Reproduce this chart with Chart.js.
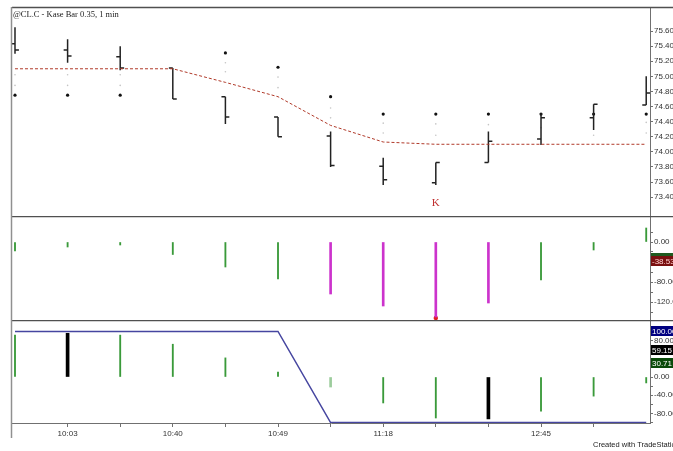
<!DOCTYPE html>
<html><head><meta charset="utf-8">
<script src="https://cdn.jsdelivr.net/npm/chart.js@4.4.1/dist/chart.umd.min.js"></script>
<style>
html,body{margin:0;padding:0;background:#fff;width:673px;height:451px;overflow:hidden}
canvas{position:absolute;left:0}
</style></head><body>
<canvas id="c1" width="673" height="216" style="top:0"></canvas>
<canvas id="c2" width="673" height="104" style="top:216px"></canvas>
<canvas id="c3" width="673" height="131" style="top:320px"></canvas>
<script>
// ---------- data ----------
const barIndex   = [0,1,2,3,4,5,6,7,8,9,10,11,12];
const timeLabels = ['', '10:03', '', '10:40', '', '10:49', '', '11:18', '', '', '12:45', '', ''];
const openP  = [75.43, 75.35, 75.26, 75.11, 74.73, 74.46, 74.21, 73.81, 73.59, 73.86, 74.17, 74.45, 74.62];
const highP  = [75.65, 75.49, 75.40, 75.11, 74.73, 74.46, 74.27, 73.92, 73.86, 74.27, 74.51, 74.63, 75.00];
const lowP   = [75.30, 75.18, 75.08, 74.70, 74.37, 74.20, 73.80, 73.56, 73.56, 73.86, 74.09, 74.29, 74.62];
const closeP = [75.35, 75.27, 75.11, 74.70, 74.46, 74.20, 73.82, 73.63, 73.86, 74.14, 74.45, 74.63, 74.78];
const kaseDots  = [74.75, 74.75, 74.75, null, 75.31, 75.12, 74.73, 74.50, 74.50, 74.50, 74.50, 74.50, 74.50];
const stopA     = [75.02, 75.02, 75.02, null, 75.18, 74.99, 74.58, 74.38, 74.37, 74.36, 74.32, 74.22, 74.39];
const stopB     = [74.88, 74.88, 74.88, null, 75.06, 74.85, 74.45, 74.25, 74.22, null, null, null, 74.25];
const trendLine = [75.10, 75.10, 75.10, 75.10, 74.92, 74.73, 74.35, 74.13, 74.10, 74.10, 74.10, 74.10, 74.10];
const priceTicks = [75.6, 75.4, 75.2, 75.0, 74.8, 74.6, 74.4, 74.2, 74.0, 73.8, 73.6, 73.4];
const kMarkIndex = 8, kMarkPrice = 73.32;

const oscValues = [-18, -10, -6, -25, -50, -74, -104, -128, -150, -122, -76, -16, 28];
const oscSignal = [null, null, null, null, null, null, null, null, -152, null, null, null, null];
const oscTicks  = [20, 0, -20, -40, -60, -80, -100, -120, -140];
const oscLabeled = [0, -40, -80, -120];
const oscLast = [{v: -31.12, t: '-31.12'}, {v: -38.53, t: '-38.53'}];

const kcdValues  = [92, 96, 92, 72, 42, 11, -22, -57, -90, -92, -75, -42, -13];
const permission = [100, 100, 100, 100, 100, 100, -100, -100, -100, -100, -100, -100, -100];
const kcdTicks   = [100, 80, 60, 40, 20, 0, -20, -40, -60, -80, -100];
const kcdLabeled = [80, 0, -40, -80];
const kcdLast = [{v: 100, t: '100.00'}, {v: 59.15, t: '59.15'}, {v: 30.71, t: '30.71'}];

// ---------- styles ----------
const oscMagenta = [6, 7, 8, 9];
const kcdBlack = [1, 9];
const kcdLight = [6];
const X_MIN = -0.057, X_MAX = 12.072;
const AX = '#707070', TXT = '#333', FONT = 'Liberation Sans';

function segs(fn){ const d=[]; barIndex.forEach(i=>{ d.push(...fn(i), {x:i+0.2, y:null}); }); return d; }
const pts = arr => barIndex.map(i => ({x:i, y:arr[i]}));
const pick = (arr, list, keep) => barIndex.map(i => ({x:i, y:(list.includes(i) === keep) ? arr[i] : null}));

function xCfg(show){
  return {type:'linear', min:X_MIN, max:X_MAX, display:show, offset:false,
    afterBuildTicks: s => { s.ticks = barIndex.slice(1, 12).map(v => ({value:v})); },
    afterFit: s => { s.height = show ? 28 : 0; s.paddingLeft = 0; s.paddingRight = 0; s.paddingTop = 0; s.paddingBottom = 0; },
    grid:{drawOnChartArea:false, drawTicks:true, tickLength:4, color:AX, offset:false},
    border:{display:true, color:AX},
    ticks:{autoSkip:false, maxRotation:0, padding:2, color:TXT, font:{size:8, family:FONT},
      callback: v => timeLabels[v] || ''}};
}
function yCfg(min, max, ticks, labelFn){
  return {position:'right', min, max,
    afterFit: s => { s.width = 23; s.paddingTop = 0; s.paddingBottom = 0; },
    afterBuildTicks: s => { s.ticks = ticks.map(v => ({value:v})); },
    grid:{drawOnChartArea:false, drawTicks:true, tickLength:3, color:AX},
    border:{display:true, color:AX},
    ticks:{autoSkip:false, padding:1, color:TXT, font:{size:8, family:FONT}, callback: labelFn}};
}
const frame = (extra) => ({id:'frame', afterDraw(c){
  const ctx=c.ctx, a=c.chartArea; ctx.save();
  ctx.strokeStyle='#505050'; ctx.lineWidth=1.5;
  ctx.beginPath(); ctx.moveTo(12, a.top-0.5); ctx.lineTo(673, a.top-0.5); ctx.stroke();
  ctx.strokeStyle='#909090'; ctx.lineWidth=1.5;
  ctx.beginPath(); ctx.moveTo(11.5, a.top-1); ctx.lineTo(11.5, extra && extra.leftBottom || c.height); ctx.stroke();
  ctx.restore(); if (extra && extra.draw) extra.draw(c);
}});
const boxes = list => (c) => {
  const ctx=c.ctx, ys=c.scales.y; ctx.save();
  list.forEach(b => { const y = Math.round(ys.getPixelForValue(b.v));
    ctx.fillStyle=b.bg; ctx.fillRect(651, y-5, 22, 10);
    ctx.fillStyle=b.fg; ctx.font='8px '+FONT; ctx.textBaseline='middle'; ctx.textAlign='left';
    ctx.fillText(b.t, 652, y+0.5); });
  ctx.restore();
};
const common = {responsive:false, animation:false, events:[],
  plugins:{legend:{display:false}, tooltip:{enabled:false}}};
const lay = top => ({autoPadding:false, padding:{top, left:12, right:0, bottom:0}});

// ---------- panel 1: price ----------
new Chart(document.getElementById('c1'), {
  type:'line',
  data:{datasets:[
    {data:pts(trendLine), borderColor:'#b03a2a', borderWidth:1, borderDash:[3,2], pointRadius:0},
    {data:segs(i=>[{x:i,y:lowP[i]},{x:i,y:highP[i]}]), borderColor:'#222', borderWidth:1.5, pointRadius:0},
    {data:segs(i=>[{x:i-0.075,y:openP[i]},{x:i,y:openP[i]}]), borderColor:'#222', borderWidth:1.5, pointRadius:0},
    {data:segs(i=>[{x:i,y:closeP[i]},{x:i+0.075,y:closeP[i]}]), borderColor:'#222', borderWidth:1.5, pointRadius:0},
    {data:pts(stopA), showLine:false, pointRadius:0.8, pointBackgroundColor:'#c4c4c4', pointBorderWidth:0},
    {data:pts(stopB), showLine:false, pointRadius:0.8, pointBackgroundColor:'#c4c4c4', pointBorderWidth:0},
    {data:pts(kaseDots), showLine:false, pointRadius:1.6, pointBackgroundColor:'#111', pointBorderWidth:0}
  ]},
  options:{...common, layout:lay(8),
    scales:{x:xCfg(false), y:yCfg(73.15, 75.905, priceTicks, v => v.toFixed(2))}},
  plugins:[frame({draw(c){
    const ctx=c.ctx; ctx.save();
    ctx.fillStyle='#222'; ctx.font='8.5px Liberation Serif'; ctx.textBaseline='alphabetic';
    ctx.fillText('@CL.C - Kase Bar 0.35, 1 min', 13, 17);
    ctx.fillStyle='#c03030'; ctx.font='11px Liberation Serif'; ctx.textAlign='center'; ctx.textBaseline='middle';
    ctx.fillText('K', c.scales.x.getPixelForValue(kMarkIndex), c.scales.y.getPixelForValue(kMarkPrice));
    ctx.restore();
  }})]
});

// ---------- panel 2: oscillator ----------
new Chart(document.getElementById('c2'), {
  type:'bar',
  data:{datasets:[
    {type:'bar', data:pick(oscValues, oscMagenta, false), backgroundColor:'#3a9a3a', barThickness:1.2, grouped:false},
    {type:'bar', data:pick(oscValues, oscMagenta, true), backgroundColor:'#cc33cc', barThickness:2, grouped:false},
    {type:'line', data:pts(oscSignal), showLine:false, pointRadius:2.2, pointBackgroundColor:'#e02020', pointBorderWidth:0, clip:4}
  ]},
  options:{...common, layout:lay(1),
    scales:{x:xCfg(false), y:yCfg(-156, 50, oscTicks, v => oscLabeled.includes(v) ? v.toFixed(2) : '')}},
  plugins:[frame({draw: boxes([
    {v:oscLast[0].v, t:oscLast[0].t, bg:'#1f5a1f', fg:'#fff'},
    {v:oscLast[1].v, t:oscLast[1].t, bg:'#7a1010', fg:'#ffd0d0'}])})]
});

// ---------- panel 3: KaseCD / permission ----------
new Chart(document.getElementById('c3'), {
  type:'bar',
  data:{datasets:[
    {type:'line', data:pts(permission), borderColor:'#4646a0', borderWidth:1.5, pointRadius:0},
    {type:'bar', data:barIndex.map(i=>({x:i, y:(kcdBlack.includes(i)||kcdLight.includes(i))?null:kcdValues[i]})), backgroundColor:'#3a9a3a', barThickness:1.2, grouped:false},
    {type:'bar', data:pick(kcdValues, kcdLight, true), backgroundColor:'#9ccc9c', barThickness:2, grouped:false},
    {type:'bar', data:pick(kcdValues, kcdBlack, true), backgroundColor:'#000', barThickness:3, grouped:false}
  ]},
  options:{...common, layout:lay(1),
    scales:{x:xCfg(true), y:yCfg(-101, 123, kcdTicks, v => kcdLabeled.includes(v) ? v.toFixed(2) : '')}},
  plugins:[frame({leftBottom:118, draw(c){
    boxes([
      {v:kcdLast[0].v, t:kcdLast[0].t, bg:'#000080', fg:'#fff'},
      {v:kcdLast[1].v, t:kcdLast[1].t, bg:'#000', fg:'#fff'},
      {v:kcdLast[2].v, t:kcdLast[2].t, bg:'#0a4a0a', fg:'#fff'}])(c);
    const ctx=c.ctx; ctx.save();
    ctx.fillStyle='#222'; ctx.font='7.5px '+FONT; ctx.textBaseline='middle';
    ctx.fillText('Created with TradeStation', 593, 125);
    ctx.restore();
  }})]
});
</script>
</body></html>
